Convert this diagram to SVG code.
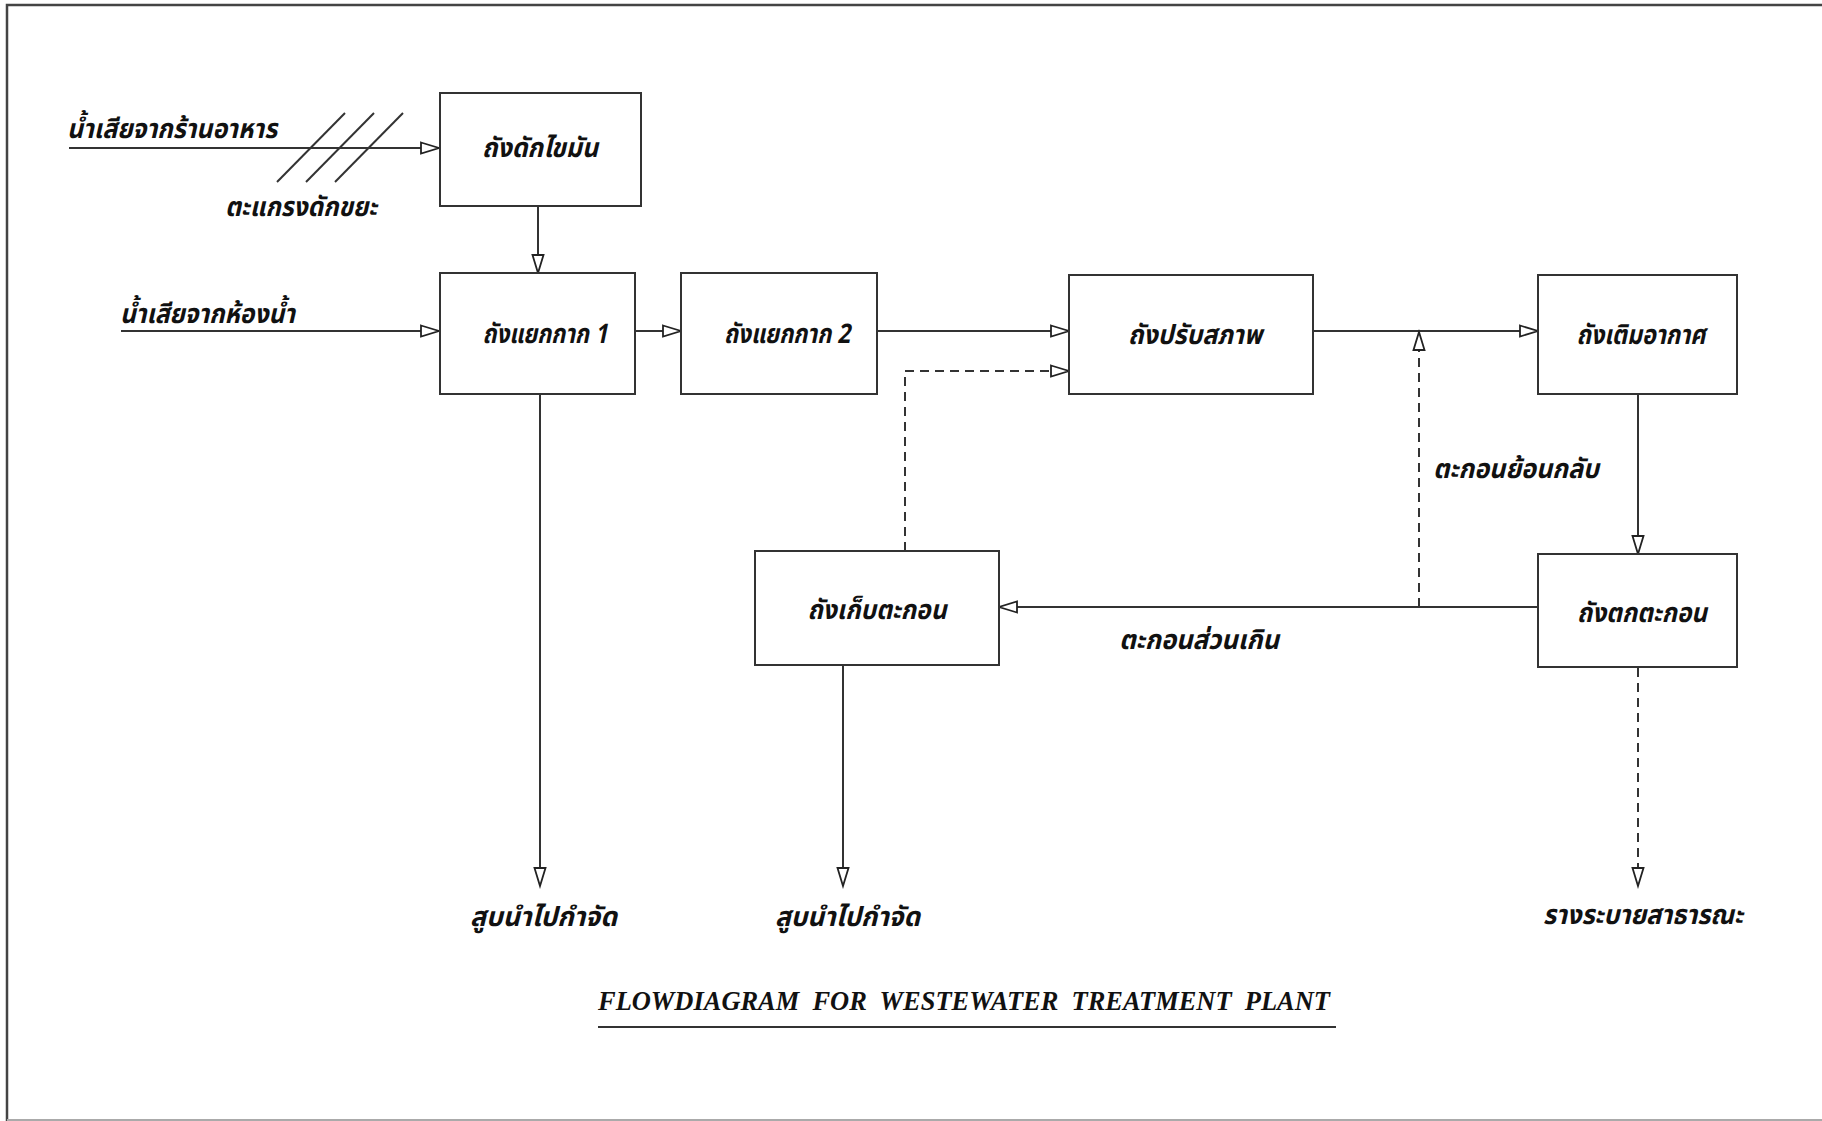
<svg xmlns="http://www.w3.org/2000/svg" width="1822" height="1121" viewBox="0 0 1822 1121">
<style>
  .box { fill: #fff; stroke: #333; stroke-width: 2; }
  .ln { fill: none; stroke: #333; stroke-width: 2; }
  .dash { fill: none; stroke: #333; stroke-width: 2; stroke-dasharray: 9 6; }
  .th { font-family: "Noto Sans Thai", "Noto Sans", "DejaVu Sans", sans-serif; font-style: italic; font-weight: bold; font-size: 27px; fill: #111; }
  .tc { text-anchor: middle; }
  .title { font-family: "Liberation Serif", serif; font-style: italic; font-weight: bold; font-size: 28px; fill: #111; }
</style>
<defs>
  <marker id="ar" markerUnits="userSpaceOnUse" markerWidth="22" markerHeight="14" refX="19" refY="7" orient="auto">
    <path d="M1,1.5 L19,7 L1,12.5 Z" fill="#fff" stroke="#222" stroke-width="1.8"/>
  </marker>
</defs>
<rect width="1822" height="1121" fill="#fff"/>
<path d="M1822,5 H7 V1121" fill="none" stroke="#444" stroke-width="2.5"/>
<line x1="7" y1="1120" x2="1822" y2="1120" stroke="#aaa" stroke-width="2"/>

<g id="connectors">
  <line class="ln" x1="69" y1="148" x2="439" y2="148" marker-end="url(#ar)"/>
  <line class="ln" x1="277" y1="182" x2="345" y2="113"/>
  <line class="ln" x1="306" y1="182" x2="374" y2="113"/>
  <line class="ln" x1="335" y1="182" x2="403" y2="113"/>
  <line class="ln" x1="538" y1="207" x2="538" y2="273" marker-end="url(#ar)"/>
  <line class="ln" x1="121" y1="331" x2="439" y2="331" marker-end="url(#ar)"/>
  <line class="ln" x1="636" y1="331" x2="681" y2="331" marker-end="url(#ar)"/>
  <line class="ln" x1="877" y1="331" x2="1069" y2="331" marker-end="url(#ar)"/>
  <line class="ln" x1="1313" y1="331" x2="1538" y2="331" marker-end="url(#ar)"/>
  <path class="dash" d="M905,551 V371 H1069" marker-end="url(#ar)"/>
  <line class="dash" x1="1419" y1="607" x2="1419" y2="332" marker-end="url(#ar)"/>
  <line class="ln" x1="1538" y1="607" x2="999" y2="607" marker-end="url(#ar)"/>
  <line class="ln" x1="1638" y1="394" x2="1638" y2="554" marker-end="url(#ar)"/>
  <line class="ln" x1="540" y1="394" x2="540" y2="886" marker-end="url(#ar)"/>
  <line class="ln" x1="843" y1="665" x2="843" y2="886" marker-end="url(#ar)"/>
  <line class="dash" x1="1638" y1="668" x2="1638" y2="886" marker-end="url(#ar)"/>
</g>

<g id="node-grease">
  <rect class="box" x="440" y="93" width="201" height="113"/>
  <text class="th tc" x="540" y="157" textLength="116" lengthAdjust="spacingAndGlyphs">ถังดักไขมัน</text>
</g>
<g id="node-sep1">
  <rect class="box" x="440" y="273" width="195" height="121"/>
  <text class="th tc" x="545" y="343" textLength="125" lengthAdjust="spacingAndGlyphs">ถังแยกกาก 1</text>
</g>
<g id="node-sep2">
  <rect class="box" x="681" y="273" width="196" height="121"/>
  <text class="th tc" x="787" y="343" textLength="126" lengthAdjust="spacingAndGlyphs">ถังแยกกาก 2</text>
</g>
<g id="node-equal">
  <rect class="box" x="1069" y="275" width="244" height="119"/>
  <text class="th tc" x="1195" y="344" textLength="134" lengthAdjust="spacingAndGlyphs">ถังปรับสภาพ</text>
</g>
<g id="node-aeration">
  <rect class="box" x="1538" y="275" width="199" height="119"/>
  <text class="th tc" x="1641" y="344" textLength="129" lengthAdjust="spacingAndGlyphs">ถังเติมอากาศ</text>
</g>
<g id="node-settle">
  <rect class="box" x="1538" y="554" width="199" height="113"/>
  <text class="th tc" x="1642" y="622" textLength="130" lengthAdjust="spacingAndGlyphs">ถังตกตะกอน</text>
</g>
<g id="node-sludge">
  <rect class="box" x="755" y="551" width="244" height="114"/>
  <text class="th tc" x="877" y="619" textLength="139" lengthAdjust="spacingAndGlyphs">ถังเก็บตะกอน</text>
</g>

<g id="labels">
  <text class="th" x="67" y="138" textLength="210" lengthAdjust="spacingAndGlyphs">น้ำเสียจากร้านอาหาร</text>
  <text class="th" x="225" y="216" textLength="152" lengthAdjust="spacingAndGlyphs">ตะแกรงดักขยะ</text>
  <text class="th" x="120" y="323" textLength="175" lengthAdjust="spacingAndGlyphs">น้ำเสียจากห้องน้ำ</text>
  <text class="th" x="1433" y="478" textLength="166" lengthAdjust="spacingAndGlyphs">ตะกอนย้อนกลับ</text>
  <text class="th" x="1119" y="649" textLength="160" lengthAdjust="spacingAndGlyphs">ตะกอนส่วนเกิน</text>
  <text class="th" x="470" y="926" textLength="147" lengthAdjust="spacingAndGlyphs">สูบนำไปกำจัด</text>
  <text class="th" x="775" y="926" textLength="145" lengthAdjust="spacingAndGlyphs">สูบนำไปกำจัด</text>
  <text class="th" x="1543" y="924" textLength="200" lengthAdjust="spacingAndGlyphs">รางระบายสาธารณะ</text>
</g>

<g id="title">
  <text class="title" x="598" y="1010" textLength="732" lengthAdjust="spacingAndGlyphs" xml:space="preserve">FLOWDIAGRAM  FOR  WESTEWATER  TREATMENT  PLANT</text>
  <line x1="598" y1="1027" x2="1336" y2="1027" stroke="#333" stroke-width="2"/>
</g>
</svg>
